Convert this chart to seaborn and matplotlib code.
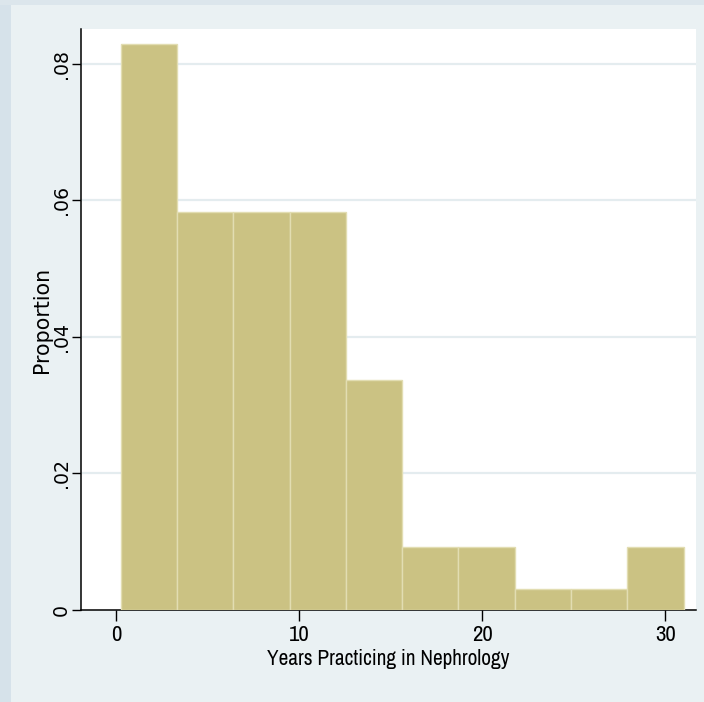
import numpy as np
import pandas as pd
import matplotlib
matplotlib.use("Agg")
import matplotlib.pyplot as plt
from matplotlib.patches import Rectangle
from matplotlib import font_manager as fm
from matplotlib.font_manager import FontProperties
import seaborn as sns

# Data: histogram of years practicing (counts per bin, 10 bins)
bin_start = 0.25
bin_end = 31.0
counts = [27, 19, 19, 19, 11, 3, 3, 1, 1, 3]
x_ticks = [0, 10, 20, 30]
y_ticks = [0, 0.02, 0.04, 0.06, 0.08]
y_tick_labels = ["0", ".02", ".04", ".06", ".08"]
x_label = "Years Practicing in Nephrology"
y_label = "Proportion"

edges = np.linspace(bin_start, bin_end, len(counts) + 1)
centers = (edges[:-1] + edges[1:]) / 2
df = pd.DataFrame({"years": centers, "n": counts})


def narrow_font(size):
    cands = []
    for f in fm.fontManager.ttflist:
        nm = f.name
        if f.style != "normal" or f.weight not in (400, "normal", "regular"):
            continue
        if ("Narrow" in nm or "Condensed" in nm) and "Bold" not in nm and "Light" not in nm \
                and "Semi" not in nm and "Extra" not in nm and "Mono" not in nm and "Serif" not in nm:
            cands.append((0, f.fname))
        elif f.stretch in ("condensed", "semi-condensed", 75, 87.5) and \
                any(k in nm for k in ("Noto Sans", "Roboto", "Open Sans", "Liberation Sans")) \
                and "Mono" not in nm and "CJK" not in nm:
            cands.append((1, f.fname))
    if cands:
        cands.sort()
        return FontProperties(fname=cands[0][1], size=size)
    return FontProperties(family="Liberation Sans", size=size * 0.9)


sns.set_style("white")
plt.rcParams["text.color"] = "black"
plt.rcParams["xtick.color"] = "black"
plt.rcParams["ytick.color"] = "black"
plt.rcParams["axes.labelcolor"] = "black"

fig = plt.figure(figsize=(7.04, 7.02), dpi=100)
fig.patch.set_facecolor("#EAF1F3")
fig.patches.append(Rectangle((0, 0), 11 / 704, 1, transform=fig.transFigure,
                             facecolor="#D6E2EA", edgecolor="none", zorder=0))
fig.patches.append(Rectangle((0, 1 - 5 / 702), 1, 5 / 702, transform=fig.transFigure,
                             facecolor="#DCE6EC", edgecolor="none", zorder=0))

ax = fig.add_axes([81 / 704, 1 - 610 / 702, (696 - 81) / 704, (610 - 29) / 702])
ax.set_facecolor("white")

sns.histplot(data=df, x="years", weights="n", bins=len(counts),
             binrange=(bin_start, bin_end), stat="density",
             color="#CBC283", edgecolor="#E2DDB2", linewidth=1.0, alpha=1.0, ax=ax,
             zorder=3)

ax.set_xlim(-1.92, 31.68)
ax.set_ylim(0, 0.0851)

ax.set_yticks(y_ticks)
ax.set_yticklabels(y_tick_labels, rotation=90, va="center",
                   fontproperties=FontProperties(family="DejaVu Sans", size=13.6))
ax.set_xticks(x_ticks)
ax.set_xticklabels([str(t) for t in x_ticks], fontproperties=narrow_font(16.5))

for y in y_ticks[1:]:
    ax.axhline(y, color="#E4ECEF", linewidth=1.6, zorder=1)

ax.tick_params(axis="x", direction="out", length=8, width=1, color="black",
               bottom=True, pad=3)
ax.tick_params(axis="y", direction="out", length=6.5, width=1, color="black",
               left=True, pad=1)

for side in ["top", "right"]:
    ax.spines[side].set_visible(False)
for side in ["left", "bottom"]:
    ax.spines[side].set_color("black")
    ax.spines[side].set_linewidth(1.1)

ax.set_xlabel(x_label, fontproperties=narrow_font(15.3), labelpad=3)
ax.set_ylabel(y_label, fontproperties=FontProperties(family="DejaVu Sans", size=14.8))
ax.yaxis.set_label_coords(-(81 - 52) / 615, 0.5)

fig.savefig("out.png", dpi=100, facecolor=fig.get_facecolor())
